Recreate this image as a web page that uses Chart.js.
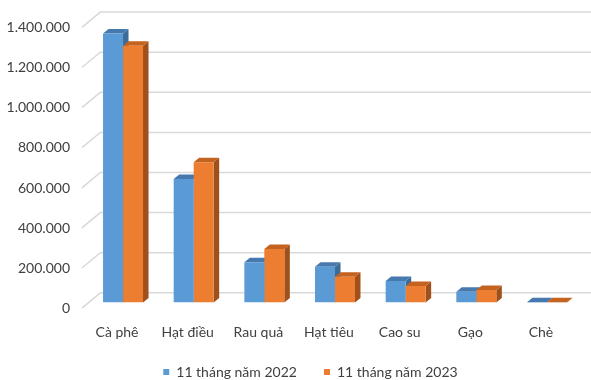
<!DOCTYPE html>
<html>
<head>
<meta charset="utf-8">
<script src="https://cdn.jsdelivr.net/npm/chart.js@4.4.1/dist/chart.umd.min.js"></script>
<style>
  html, body { margin: 0; padding: 0; background: #ffffff; }
  #wrap { width: 591px; height: 380px; }
</style>
</head>
<body>
<div id="wrap"><canvas id="chart" width="591" height="380"></canvas></div>
<script>
// Export volume (tonnes), first 11 months of each year
const categories = ['Cà phê', 'Hạt điều', 'Rau quả', 'Hạt tiêu', 'Cao su', 'Gạo', 'Chè'];
const exports2022 = [1342000, 616000, 200500, 178600, 107000, 54000, 1000];
const exports2023 = [1281000, 699000, 267000, 128700, 82000, 62000, 1000];
const seriesNames = ['11 tháng năm 2022', '11 tháng năm 2023'];
const yTickLabels = ['0', '200.000', '400.000', '600.000', '800.000', '1.000.000', '1.200.000', '1.400.000'];

// Face colours: front, top, side
const frontColors = ['#5b9bd5', '#ed7d31'];
const topColors = ['#4679ad', '#c4621f'];
const sideColors = ['#3c6b98', '#9f501b'];

const TEXT = '#404040';
const FONT = { family: 'Lato', size: 14 };

// Oblique projection offsets (px) for the 3D look
const BAR_DEPTH = { dx: 5.5, dy: -4.5 };
const FLOOR_FRONT = { dx: -5.8, dy: 5.6 };
const FLOOR_BACK = { dx: 12.6, dy: -9.7 };

// value labels sit right-aligned, this far left of the plot's left edge
const Y_LABEL_GAP = 17.7;
// category label centre line, this far below the bars' base
const X_LABEL_DROP = 30.4;
const measureCtx = document.createElement('canvas').getContext('2d');
measureCtx.font = FONT.size + 'px ' + FONT.family;
const widestYLabel = Math.max(...yTickLabels.map(s => measureCtx.measureText(s).width));
const labelLineHeight = FONT.size * 1.2;

function fillPoly(ctx, pts) {
  ctx.beginPath();
  ctx.moveTo(pts[0][0], pts[0][1]);
  for (let i = 1; i < pts.length; i++) ctx.lineTo(pts[i][0], pts[i][1]);
  ctx.closePath();
  ctx.fill();
}

const bars3d = {
  id: 'bars3d',
  beforeDatasetsDraw(chart) {
    const { ctx, chartArea, scales } = chart;
    const yScale = scales.y;
    ctx.save();

    // side wall diagonals and back wall gridlines
    ctx.strokeStyle = '#d9d9d9';
    ctx.lineWidth = 1.5;
    yScale.ticks.forEach(t => {
      const py = yScale.getPixelForValue(t.value);
      ctx.beginPath();
      ctx.moveTo(chartArea.left + FLOOR_FRONT.dx, py + FLOOR_FRONT.dy);
      ctx.lineTo(chartArea.left + FLOOR_BACK.dx, py + FLOOR_BACK.dy);
      ctx.lineTo(chart.width, py + FLOOR_BACK.dy);
      ctx.stroke();
    });

    // side and top faces, category by category, left series first
    const n = chart.data.labels.length;
    for (let i = 0; i < n; i++) {
      chart.data.datasets.forEach((ds, di) => {
        const el = chart.getDatasetMeta(di).data[i];
        const p = el.getProps(['x', 'y', 'base', 'width'], true);
        const l = p.x - p.width / 2, r = p.x + p.width / 2;
        const top = p.y, base = p.base;
        const dx = BAR_DEPTH.dx, dy = BAR_DEPTH.dy;
        ctx.fillStyle = sideColors[di];
        fillPoly(ctx, [[r, top], [r + dx, top + dy], [r + dx, base + dy], [r, base]]);
        ctx.fillStyle = topColors[di];
        fillPoly(ctx, [[l, top], [r, top], [r + dx, top + dy], [l + dx, top + dy]]);
      });
    }
    ctx.restore();
  }
};

new Chart(document.getElementById('chart'), {
  type: 'bar',
  data: {
    labels: categories,
    datasets: [
      { label: seriesNames[0], data: exports2022, backgroundColor: frontColors[0] },
      { label: seriesNames[1], data: exports2023, backgroundColor: frontColors[1] }
    ]
  },
  options: {
    responsive: false,
    animation: false,
    devicePixelRatio: 1,
    datasets: { bar: { categoryPercentage: 0.566, barPercentage: 1.0, borderWidth: 0 } },
    layout: { padding: { left: 38.6, right: 8.7, top: 21.8, bottom: -9 } },
    plugins: {
      tooltip: { enabled: false },
      legend: {
        position: 'bottom',
        labels: { boxWidth: 6, boxHeight: 6, padding: 27.1, color: TEXT, font: FONT }
      }
    },
    scales: {
      x: {
        grid: { display: false, drawTicks: false },
        border: { display: false },
        ticks: {
          color: TEXT,
          font: FONT,
          labelOffset: -6,
          mirror: true,
          padding: -(X_LABEL_DROP + labelLineHeight / 2),
          maxRotation: 0,
          autoSkip: false
        },
        afterFit(s) { s.height = 35.4; }
      },
      y: {
        min: 0,
        max: 1400000,
        grid: { display: false, drawTicks: false },
        border: { display: false },
        ticks: {
          stepSize: 200000,
          color: TEXT,
          font: FONT,
          labelOffset: 5.8,
          mirror: true,
          crossAlign: 'far',
          padding: -(widestYLabel + Y_LABEL_GAP),
          callback: (v, i) => yTickLabels[i]
        },
        afterFit(s) { s.width = 49.1; }
      }
    }
  },
  plugins: [bars3d]
});
</script>
</body>
</html>
